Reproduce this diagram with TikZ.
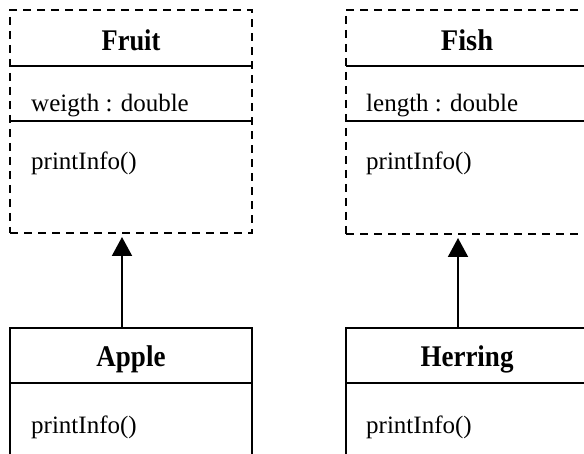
\documentclass[tikz,border=0pt]{standalone}
\usepackage{fontspec}
\setmainfont{Liberation Serif}
\usetikzlibrary{arrows.meta}
\tikzset{
  classbox/.style={draw=black, line width=2pt, minimum width=242pt, inner sep=0pt, outer sep=0pt},
  abstractbox/.style={classbox, dash pattern=on 8pt off 6pt},
  sep/.style={draw=black, line width=2pt},
  titletext/.style={anchor=base, inner sep=0pt, font=\fontsize{30}{34}\selectfont\bfseries},
  membertext/.style={anchor=base west, inner sep=0pt, font=\fontsize{25}{30}\selectfont},
  inherit/.style={line width=2pt, -{Triangle[width=20pt,length=19pt]}, shorten >=4pt}
}
\begin{document}
\begin{tikzpicture}[x=1pt,y=-1pt]
\useasboundingbox (0,0) rectangle (584,454);
\clip (0,0) rectangle (584,454);
% Fruit
\node[abstractbox, minimum height=223pt] (fruit) at (131,121.5) {};
\draw[sep] (fruit.west |- 0,66) -- (fruit.east |- 0,66);
\draw[sep] (fruit.west |- 0,121) -- (fruit.east |- 0,121);
\node[titletext] (fruitT) at (131,51) {\scalebox{0.88}[1]{Fruit}};
\node[membertext] (fruitA) at (31,112) {weigth : double};
\node[membertext] (fruitM) at (31,170) {printInfo()};
% Fish
\node[abstractbox, minimum height=224pt] (fish) at (467,122) {};
\draw[sep] (fish.west |- 0,66) -- (fish.east |- 0,66);
\draw[sep] (fish.west |- 0,121) -- (fish.east |- 0,121);
\node[titletext] (fishT) at (467,51) {\scalebox{0.95}[1]{Fish}};
\node[membertext] (fishA) at (366,112) {length : double};
\node[membertext] (fishM) at (366,170) {printInfo()};
% Apple
\node[classbox, minimum height=200pt] (apple) at (131,428) {};
\draw[sep] (apple.west |- 0,383) -- (apple.east |- 0,383);
\node[titletext] (appleT) at (131,367) {\scalebox{0.9}[1]{Apple}};
\node[membertext] (appleM) at (31,433) {printInfo()};
% Herring
\node[classbox, minimum height=200pt] (herring) at (467,428) {};
\draw[sep] (herring.west |- 0,383) -- (herring.east |- 0,383);
\node[titletext] (herringT) at (467,367) {\scalebox{0.9}[1]{Herring}};
\node[membertext] (herringM) at (366,433) {printInfo()};
% Inheritance arrows
\draw[inherit] ([xshift=-9pt]apple.north) -- ([xshift=-9pt]fruit.south);
\draw[inherit] ([xshift=-9pt]herring.north) -- ([xshift=-9pt]fish.south);
\end{tikzpicture}
\end{document}
